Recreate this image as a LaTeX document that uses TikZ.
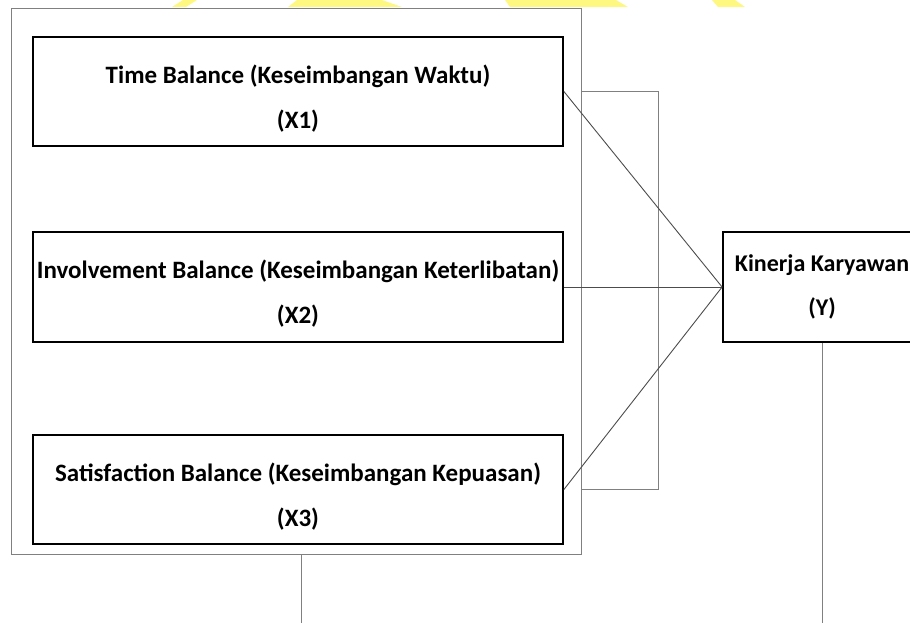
\documentclass[tikz,border=0pt]{standalone}
\usepackage{fontspec}
\setmainfont{Carlito}
\usepackage{tikz}

\tikzset{
	varbox/.style={draw=black, line width=1.8pt, align=center, minimum width=530pt, minimum height=109pt, inner sep=0pt, font=\bfseries\fontsize{25}{45}\selectfont},
	groupbox/.style={draw=gray, line width=1pt, minimum width=570pt, minimum height=545pt, inner sep=0pt},
	link/.style={draw=black!70, line width=0.9pt},
	frame/.style={draw=gray, line width=0.9pt},
	wmark/.style={fill=yellow!50}
}
\newcommand{\firstline}{\rule{0pt}{32pt}}

\begin{document}
\begin{tikzpicture}[x=1pt, y=-1pt]
			\useasboundingbox (0,0) rectangle (910,623);
			\foreach \a/\b/\c/\d in {172/186/197/183, 288/402/382/297, 510/628/616/505, 718/745/735/712}
				\fill[wmark] (\a,7) -- (\b,7) -- (\c,0) -- (\d,0) -- cycle;
			\node[groupbox] (outer) at (296,281.5) {};
			\node[varbox] (x1) at (298,91.5) {\firstline Time Balance (Keseimbangan Waktu)\\(X1)};
			\node[varbox, minimum height=110pt] (x2) at (298,287) {\firstline Involvement Balance (Keseimbangan Keterlibatan)\\(X2)};
			\node[varbox] (x3) at (298,489.5) {\firstline Satisfaction Balance (Keseimbangan Kepuasan)\\(X3)};
			\node[varbox, minimum width=198pt, minimum height=110pt, font=\bfseries\fontsize{24}{44}\selectfont] (y) at (822,287) {Kinerja Karyawan\\(Y)};
			\coordinate (brk) at (658,0);
			\coordinate (bot) at (0,630);
			\draw[frame] (outer.east |- x1.east) -- (brk |- x1.east) -- (brk |- x3.east) -- (outer.east |- x3.east);
			\foreach \v in {x1, x2, x3}
				\draw[link] (\v.east) -- (y.west);
			\draw[frame] ([xshift=5pt]outer.south) -- ([xshift=5pt]outer.south |- bot);
			\draw[frame] (y.south) -- (y.south |- bot);
		\end{tikzpicture}
\end{document}
